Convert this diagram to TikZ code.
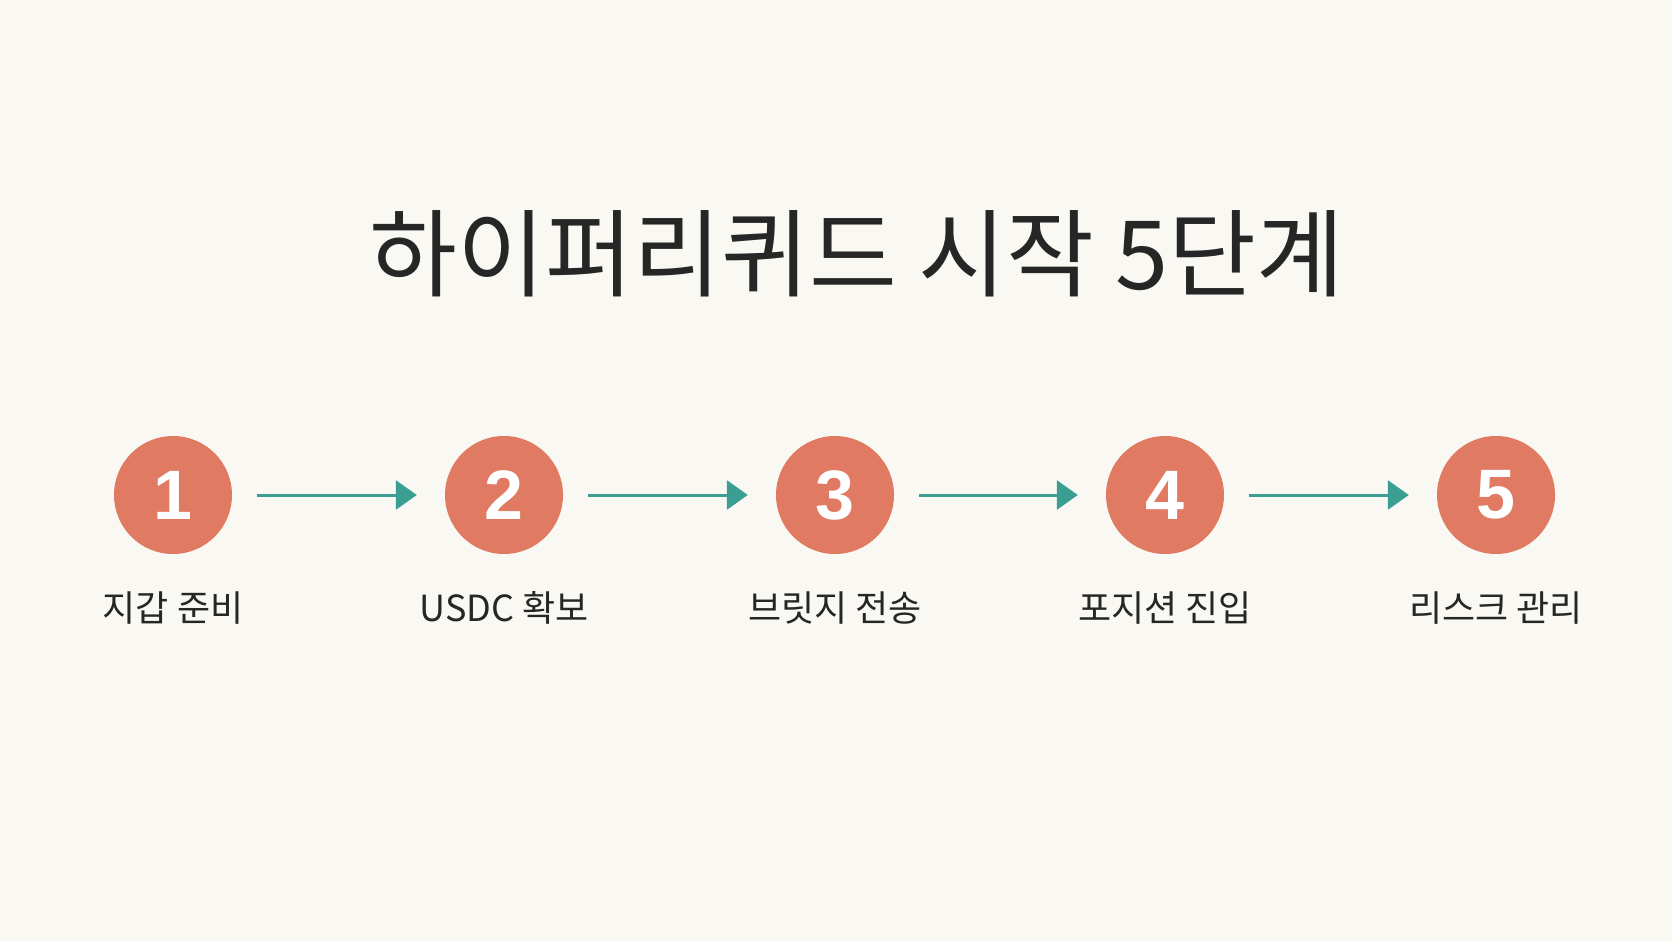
\documentclass[tikz,border=0pt]{standalone}
\usepackage{fontspec}
\newfontfamily\cjk{Noto Sans CJK KR}
\newfontfamily\numfont{Liberation Sans}
\usetikzlibrary{arrows.meta}
\definecolor{bgcol}{HTML}{FAF8F2}
\definecolor{stepfill}{HTML}{E07A62}
\definecolor{arrcol}{HTML}{3A9E93}
\definecolor{txtcol}{HTML}{262626}
\tikzset{
  stepcircle/.style={circle, fill=stepfill, draw=none, minimum size=118pt, inner sep=0pt,
    text=white, font=\numfont\bfseries\fontsize{70}{74}\selectfont},
  steplabel/.style={anchor=base, inner sep=0pt, text=txtcol, font=\cjk\fontsize{36}{42}\selectfont},
  conn/.style={draw=arrcol, line width=3pt, shorten <=25pt, shorten >=28pt,
    -{Triangle[length=21pt,width=29pt]}},
}
\begin{document}
\begin{tikzpicture}[x=1pt,y=-1pt]
\fill[bgcol] (0,0) rectangle (1672,941);
\node[anchor=base, inner sep=0pt, text=txtcol, font=\cjk\fontsize{95.5}{100}\selectfont] (title) at (857,289) {하이퍼리퀴드 시작 5단계};
\node[stepcircle] (c1) at (173,495) {1};
\node[stepcircle] (c2) at (504,495) {2};
\node[stepcircle] (c3) at (835,495) {3};
\node[stepcircle] (c4) at (1165,495) {4};
\node[stepcircle] (c5) at (1496,495) {5};
\node[steplabel] (l1) at (173,621) {지갑 준비};
\node[steplabel] (l2) at (504,621) {USDC 확보};
\node[steplabel] (l3) at (835,621) {브릿지 전송};
\node[steplabel] (l4) at (1165,621) {포지션 진입};
\node[steplabel] (l5) at (1496,621) {리스크 관리};
\draw[conn] (c1) -- (c2);
\draw[conn] (c2) -- (c3);
\draw[conn] (c3) -- (c4);
\draw[conn] (c4) -- (c5);
\end{tikzpicture}
\end{document}
